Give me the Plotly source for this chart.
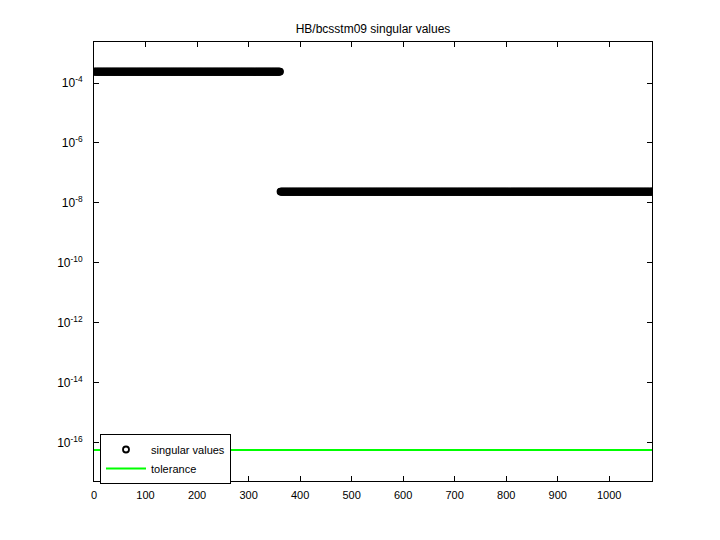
import plotly.graph_objects as go

# data
n_upper = 361
n_lower = 722
upper_value = 2.4e-4
lower_value = 2.4e-8
tolerance_value = 5.8e-17
n_total = n_upper + n_lower

sv_index = list(range(1, n_total + 1))
sv_values = [upper_value] * n_upper + [lower_value] * n_lower
tol_x = [0, n_total]
tol_y = [tolerance_value, tolerance_value]

ytick_exps = [-4, -6, -8, -10, -12, -14, -16]
xtick_vals = [0, 100, 200, 300, 400, 500, 600, 700, 800, 900, 1000]

fig = go.Figure()
fig.add_trace(go.Scatter(
    x=sv_index, y=sv_values, mode="markers", name="singular values",
    marker=dict(symbol="circle-open", size=6, color="black", line=dict(width=1.8, color="black")),
))
fig.add_trace(go.Scatter(
    x=tol_x, y=tol_y, mode="lines", name="tolerance",
    line=dict(color="#00ff00", width=2),
))

axis_common = dict(showline=True, linecolor="black", linewidth=1, mirror="ticks",
                   ticks="inside", ticklen=5, tickcolor="black", showgrid=False,
                   zeroline=False, tickfont=dict(size=11, color="black"))

fig.update_xaxes(range=[0, n_total], tickvals=xtick_vals, ticklabelstandoff=4, **axis_common)
fig.update_yaxes(type="log", range=[-17.27, -2.633],
                 tickvals=[10 ** e for e in ytick_exps],
                 ticktext=["10<sup>%d</sup>" % e for e in ytick_exps],
                 ticklabelstandoff=8, tickfont=dict(size=12, color="black"),
                 **{k: v for k, v in axis_common.items() if k != "tickfont"})

# page has an 8px body margin, so offsets are shifted by 8
fig.update_layout(
    width=720, height=540,
    margin=dict(l=86, r=76, t=34, b=67),
    paper_bgcolor="white", plot_bgcolor="white",
    font=dict(family="Liberation Sans, Arial, Helvetica, sans-serif", size=11, color="black"),
    title=dict(text="HB/bcsstm09 singular values", x=(86 + 644) / 2 / 720, xanchor="center",
               y=1 - 21 / 540, yanchor="middle", font=dict(size=12)),
    legend=dict(x=6 / 558, y=(481 - 434) / 439, xanchor="left", yanchor="top",
                bordercolor="black", borderwidth=1, bgcolor="white",
                font=dict(size=11), tracegroupgap=0, itemwidth=40),
    showlegend=True,
)

fig.write_html("out.html")
